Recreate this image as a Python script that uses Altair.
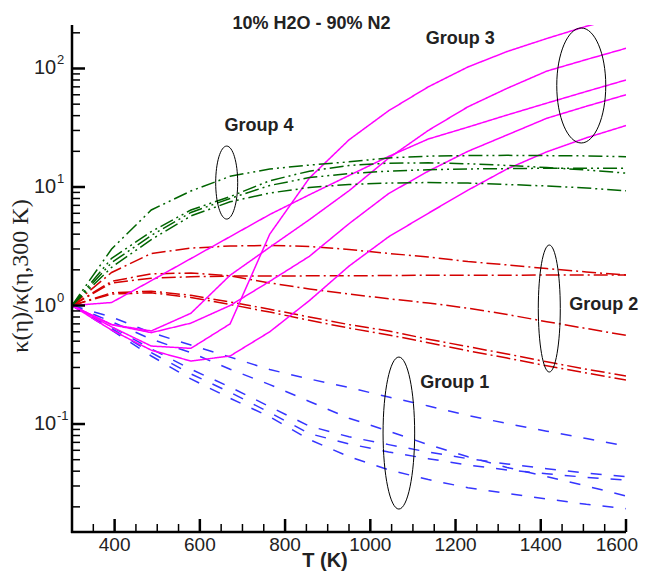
import altair as alt
import pandas as pd

# ---------------- data ----------------
T = [300, 393, 486, 579, 671, 764, 857, 950, 1043, 1136, 1229, 1321, 1414, 1507, 1600]

group1 = {  # blue dashed
    "B1": [1, 0.80, 0.59, 0.464, 0.367, 0.288, 0.24, 0.203, 0.169, 0.142, 0.118, 0.101, 0.087, 0.0755, 0.0652],
    "B2": [1, 0.73, 0.52, 0.40, 0.29, 0.215, 0.155, 0.112, 0.087, 0.067, 0.053, 0.043, 0.036, 0.030, 0.0247],
    "B3": [1, 0.66, 0.43, 0.29, 0.205, 0.14, 0.096, 0.078, 0.067, 0.058, 0.051, 0.046, 0.042, 0.0385, 0.0359],
    "B4": [1, 0.64, 0.40, 0.265, 0.185, 0.125, 0.083, 0.068, 0.058, 0.051, 0.045, 0.041, 0.038, 0.0355, 0.0337],
    "B5": [1, 0.62, 0.375, 0.24, 0.165, 0.115, 0.074, 0.053, 0.041, 0.034, 0.029, 0.026, 0.0233, 0.021, 0.0193],
}
group2 = {  # red dash-dot
    "R1": [1, 1.9, 2.75, 3.05, 3.18, 3.21, 3.15, 2.97, 2.75, 2.57, 2.35, 2.2, 2.05, 1.92, 1.81],
    "R2": [1, 1.55, 1.7, 1.75, 1.77, 1.77, 1.78, 1.78, 1.79, 1.8, 1.8, 1.8, 1.81, 1.81, 1.81],
    "R3": [1, 1.6, 1.85, 1.88, 1.78, 1.55, 1.38, 1.25, 1.14, 1.05, 0.95, 0.84, 0.73, 0.64, 0.56],
    "R4": [1, 1.28, 1.32, 1.22, 1.07, 0.93, 0.8, 0.69, 0.61, 0.52, 0.45, 0.39, 0.335, 0.29, 0.254],
    "R5": [1, 1.25, 1.28, 1.17, 1.02, 0.88, 0.75, 0.645, 0.565, 0.485, 0.415, 0.36, 0.31, 0.27, 0.235],
}
group3 = {  # magenta solid
    "Pa": [1, 1.06, 1.62, 2.49, 3.81, 5.86, 8.6, 12.5, 18.1, 25.4, 32, 40.5, 51, 64, 80],
    "Pb1": [1, 0.69, 0.61, 0.86, 1.8, 3.1, 5.3, 9.3, 17.5, 30, 47.5, 68, 95, 119, 148],
    "Pb2": [1, 0.69, 0.59, 0.71, 1.0, 1.6, 2.6, 4.9, 8.8, 13.6, 20, 27.5, 38, 48, 60],
    "Pc": [1, 0.66, 0.455, 0.435, 0.70, 4.0, 11.9, 25, 44, 70, 103, 139, 179, 227, 277],
    "Pd": [1, 0.62, 0.42, 0.34, 0.375, 0.60, 1.1, 2.15, 3.8, 6.0, 9.4, 14.2, 19.8, 26, 33],
}
group4 = {  # green dash-dot-dot
    "GA": [1, 3.0, 6.4, 9.25, 12.3, 14.2, 15.3, 16.3, 17.6, 18.2, 18.4, 18.5, 18.4, 18.3, 18.0],
    "GC": [1, 2.5, 4.2, 6.4, 8.3, 11.3, 13.6, 15.2, 15.9, 16.0, 15.7, 15.2, 14.6, 13.9, 13.1],
    "GB": [1, 2.3, 3.9, 6.1, 8.0, 10.3, 12.0, 13.0, 13.6, 14.0, 14.2, 14.3, 14.4, 14.4, 14.4],
    "GD": [1, 2.1, 3.6, 5.7, 7.5, 8.9, 9.9, 10.5, 10.8, 10.9, 10.8, 10.5, 10.2, 9.8, 9.3],
}

group_names = ["Group 1", "Group 2", "Group 3", "Group 4"]
group_colors = ["#3535ff", "#d40000", "#ff00ff", "#006400"]
group_dashes = [[11, 12], [14, 4, 2, 4], [1, 0], [14, 4, 2, 4, 2, 4]]

x_major = [400, 600, 800, 1000, 1200, 1400, 1600]
x_minor = [350, 450, 500, 550, 650, 700, 750, 850, 900, 950, 1050, 1100, 1150,
           1250, 1300, 1350, 1450, 1500, 1550]
y_major = [0.1, 1, 10, 100]
y_major_exp = ["-1", "0", "1", "2"]
y_minor = [0.02, 0.03, 0.04, 0.05, 0.06, 0.07, 0.08, 0.09,
           0.2, 0.3, 0.4, 0.5, 0.6, 0.7, 0.8, 0.9,
           2, 3, 4, 5, 6, 7, 8, 9,
           20, 30, 40, 50, 60, 70, 80, 90, 200]

label_text = ["10% H2O - 90% N2", "Group 4", "Group 3", "Group 2", "Group 1"]
label_T = [862, 739, 1211, 1548, 1198]
label_v = [214, 29.7, 160, 0.916, 0.2]

ell_T = [663, 1495, 1420, 1067]
ell_v = [10.9, 71.9, 0.943, 0.0839]
ell_rx = [11, 24.5, 11, 15.8]
ell_ry = [36.5, 57.5, 63.5, 76]

x_title = "T (K)"
y_title = "κ(η)/κ(η,300 K)"

# ---------------- tables ----------------
rows = []
for gname, grp in zip(group_names, [group1, group2, group3, group4]):
    for sname, vals in grp.items():
        for t, v in zip(T, vals):
            rows.append({"T": t, "value": v, "series": sname, "group": gname})
df = pd.DataFrame(rows)

k = 0.5523
def ellipse_path(rx, ry):
    r = rx / ry
    return (f"M 0 -1 C {k*r:.4f} -1 {r:.4f} {-k:.4f} {r:.4f} 0 "
            f"C {r:.4f} {k:.4f} {k*r:.4f} 1 0 1 "
            f"C {-k*r:.4f} 1 {-r:.4f} {k:.4f} {-r:.4f} 0 "
            f"C {-r:.4f} {-k:.4f} {-k*r:.4f} -1 0 -1 Z")

ell_df = pd.DataFrame({
    "T": ell_T, "value": ell_v,
    "path": [ellipse_path(a, b) for a, b in zip(ell_rx, ell_ry)],
    "size": [(2 * b) ** 2 for b in ell_ry],
})
lab_df = pd.DataFrame({"T": label_T, "value": label_v, "text": label_text})
xmaj_df = pd.DataFrame({"T": x_major[:-1], "lab": [str(v) for v in x_major[:-1]]})
xlast_df = pd.DataFrame({"T": x_major[-1:], "lab": [str(v) for v in x_major[-1:]]})
xtick_df = pd.DataFrame({"T": x_major})
xmin_df = pd.DataFrame({"T": x_minor})
ymaj_df = pd.DataFrame({"value": y_major, "exp": y_major_exp})
ymin_df = pd.DataFrame({"value": y_minor})
xt_df = pd.DataFrame({"text": [x_title]})
yt_df = pd.DataFrame({"text": [y_title]})

# ---------------- chart ----------------
W, H = 554, 507
xs = alt.Scale(domain=[300, 1600], nice=False, zero=False)
ys = alt.Scale(type="log", domain=[0.01227, 232.8], nice=False)
XQ = alt.X("T:Q", scale=xs, axis=None)
YQ = alt.Y("value:Q", scale=ys, axis=None)
TXT = "#222222"
SANS = "Liberation Sans"

lines = alt.Chart(df).mark_line(clip=True, strokeWidth=1.5).encode(
    x=XQ, y=YQ,
    color=alt.Color("group:N", scale=alt.Scale(domain=group_names, range=group_colors), legend=None),
    strokeDash=alt.StrokeDash("group:N", scale=alt.Scale(domain=group_names, range=group_dashes), legend=None),
    detail="series:N",
    order="T:Q",
)

x_axis_line = alt.Chart(xt_df).mark_rule(color="black", strokeWidth=2.5).encode(
    x=alt.value(-1), x2=alt.value(W), y=alt.value(H))
y_axis_line = alt.Chart(yt_df).mark_rule(color="black", strokeWidth=2.5).encode(
    x=alt.value(0), y=alt.value(0), y2=alt.value(H + 1))

x_major_ticks = alt.Chart(xtick_df).mark_rule(color="black", strokeWidth=2.5).encode(
    x=XQ, y=alt.value(H), y2=alt.value(H - 13))
x_minor_ticks = alt.Chart(xmin_df).mark_rule(color="black", strokeWidth=1.5).encode(
    x=XQ, y=alt.value(H), y2=alt.value(H - 8))
y_major_ticks = alt.Chart(ymaj_df).mark_rule(color="black", strokeWidth=2.5).encode(
    y=YQ, x=alt.value(0), x2=alt.value(13))
y_minor_ticks = alt.Chart(ymin_df).mark_rule(color="black", strokeWidth=1.5).encode(
    y=YQ, x=alt.value(0), x2=alt.value(8))

x_labels = alt.Chart(xmaj_df).mark_text(
    align="center", baseline="top", font=SANS, fontSize=19, color=TXT
).encode(x=XQ, y=alt.value(H + 4), text="lab:N")
x_label_last = alt.Chart(xlast_df).mark_text(
    align="right", baseline="top", font=SANS, fontSize=19, color=TXT, dx=12
).encode(x=XQ, y=alt.value(H + 4), text="lab:N")

y_lab_base = alt.Chart(ymaj_df).mark_text(
    align="left", baseline="middle", font=SANS, fontSize=20, color=TXT
).encode(y=YQ, x=alt.value(-38), text=alt.value("10"))
y_lab_exp = alt.Chart(ymaj_df).mark_text(
    align="left", baseline="middle", font=SANS, fontSize=13, color=TXT, dy=-8
).encode(y=YQ, x=alt.value(-15), text="exp:N")

x_title_mark = alt.Chart(xt_df).mark_text(
    align="center", baseline="alphabetic", font=SANS, fontSize=20, fontWeight="bold", color=TXT
).encode(x=alt.value(253), y=alt.value(H + 35), text="text:N")
y_title_mark = alt.Chart(yt_df).mark_text(
    align="center", baseline="alphabetic", font="Liberation Serif", fontSize=24, color=TXT, angle=270
).encode(x=alt.value(-44), y=alt.value(251), text="text:N")

ellipses = alt.Chart(ell_df).mark_point(filled=False, color="black", strokeWidth=1, opacity=1).encode(
    x=XQ, y=YQ,
    shape=alt.Shape("path:N", scale=None),
    size=alt.Size("size:Q", scale=None),
)

labels = alt.Chart(lab_df).mark_text(
    align="center", baseline="alphabetic", font=SANS, fontSize=18,
    fontWeight="bold", color=TXT
).encode(x=XQ, y=YQ, text="text:N")

chart = alt.layer(
    lines, ellipses, x_major_ticks, x_minor_ticks, y_major_ticks, y_minor_ticks,
    x_axis_line, y_axis_line, x_labels, x_label_last, y_lab_base, y_lab_exp,
    x_title_mark, y_title_mark, labels
).properties(
    width=W, height=H,
    background="white",
    autosize=alt.AutoSizeParams(type="none"),
    padding={"left": 64, "top": 17, "right": 13, "bottom": 39},
).configure_view(stroke=None)

chart.save("out.html", embed_options={"renderer": "svg", "actions": False})
